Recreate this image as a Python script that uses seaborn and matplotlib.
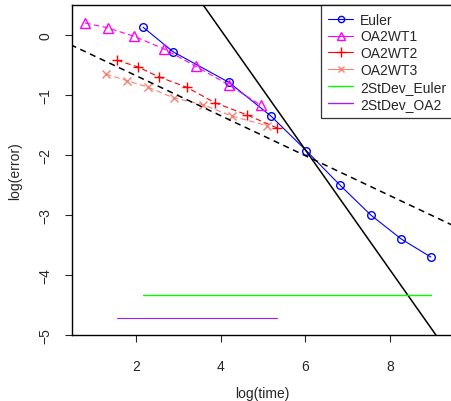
import matplotlib
matplotlib.use("Agg")
import matplotlib.pyplot as plt
from matplotlib.lines import Line2D
import numpy as np
import pandas as pd
import seaborn as sns

# values
euler_x = [2.17, 2.88, 4.20, 5.19, 6.03, 6.82, 7.55, 8.27, 8.97]
euler_y = [0.13, -0.28, -0.79, -1.35, -1.93, -2.50, -3.00, -3.40, -3.70]

wt1_x = [0.80, 1.33, 1.95, 2.66, 3.41, 4.19, 4.95]
wt1_y = [0.20, 0.12, -0.02, -0.23, -0.52, -0.83, -1.17]

wt2_x = [1.55, 2.04, 2.55, 3.20, 3.87, 4.62, 5.34]
wt2_y = [-0.42, -0.53, -0.70, -0.87, -1.13, -1.33, -1.55]

wt3_x = [1.29, 1.78, 2.29, 2.90, 3.58, 4.26, 5.09]
wt3_y = [-0.65, -0.76, -0.87, -1.05, -1.16, -1.35, -1.51]

# reference lines (intercept, slope)
ref_solid = (4.09, -1.0)
ref_dashed = (-0.01, -1.0 / 3)

sd_euler = -4.34
sd_oa2 = -4.72

sns.set_style("ticks")
plt.rcParams["font.family"] = ["Liberation Sans", "DejaVu Sans"]

fig = plt.figure(figsize=(4.52, 4.02), dpi=100)
ax = fig.add_axes([72 / 452, 66 / 402, 380 / 452, 330 / 402])

series = [
    ("Euler", euler_x, euler_y, "blue", "o", "-", 5.5),
    ("OA2WT1", wt1_x, wt1_y, "magenta", "^", (0, (5, 3)), 6.5),
    ("OA2WT2", wt2_x, wt2_y, "red", "+", (0, (5, 3)), 7.5),
    ("OA2WT3", wt3_x, wt3_y, "#FA8072", "x", (0, (5, 3)), 5.5),
]

handles = []
for name, xs, ys, col, mk, ls, ms in series:
    df = pd.DataFrame({"x": xs, "y": ys})
    sns.lineplot(data=df, x="x", y="y", ax=ax, sort=False, color=col,
                 marker=mk, markersize=ms, markerfacecolor="none",
                 markeredgecolor=col, markeredgewidth=1, linewidth=0.8,
                 linestyle=ls, errorbar=None)
    handles.append(Line2D([], [], color=col, marker=mk, markersize=ms - 1,
                          markerfacecolor="none", markeredgewidth=1,
                          linewidth=0.8, label=name))

xx = np.array([0.0, 10.0])
ax.plot(xx, ref_solid[0] + ref_solid[1] * xx, color="black", linewidth=1.1)
ax.plot(xx, ref_dashed[0] + ref_dashed[1] * xx, color="black", linewidth=1.1,
        linestyle=(0, (4, 3)))

ax.plot([min(euler_x), max(euler_x)], [sd_euler, sd_euler], color="#00FF00", linewidth=1)
ax.plot([min(wt2_x), max(wt2_x)], [sd_oa2, sd_oa2], color="#A020F0", linewidth=0.8)
handles.append(Line2D([], [], color="#00FF00", linewidth=1, label="2StDev_Euler"))
handles.append(Line2D([], [], color="#A020F0", linewidth=1, label="2StDev_OA2"))

ax.set_xlim(0.49, 9.47)
ax.set_ylim(-5.0, 0.5)
ax.set_xticks([2, 4, 6, 8])
ax.set_yticks([0, -1, -2, -3, -4, -5])
ax.tick_params(direction="out", length=5, width=0.8, labelsize=10)
ax.tick_params(axis="x", pad=12)
ax.tick_params(axis="y", labelrotation=90, pad=9)
for lab in ax.get_yticklabels():
    lab.set_va("center")
for s in ax.spines.values():
    s.set_visible(True)
    s.set_linewidth(1)
    s.set_color("black")

ax.set_xlabel("log(time)", fontsize=10, labelpad=10)
ax.set_ylabel("log(error)", fontsize=10, labelpad=12)

leg = ax.legend(handles=handles, loc="upper left", bbox_to_anchor=(0.654, 1.0),
                borderaxespad=0, fontsize=10, frameon=True, fancybox=False,
                edgecolor="black", handlelength=1.8, labelspacing=0.2,
                handletextpad=0.5, borderpad=0.55)
leg.get_frame().set_linewidth(0.9)

fig.savefig("out.png", dpi=100)
